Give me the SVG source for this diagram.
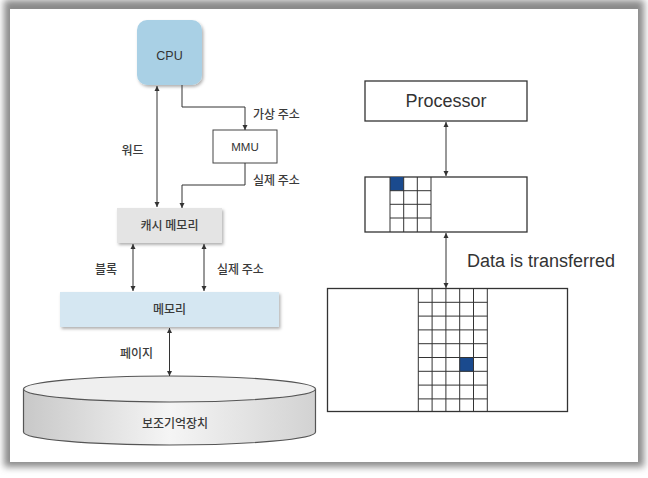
<svg xmlns="http://www.w3.org/2000/svg" width="648" height="478" viewBox="0 0 648 478">
<defs>
<filter id="frameShadow" x="-5%" y="-5%" width="110%" height="110%"><feGaussianBlur stdDeviation="3.5"/></filter>
<filter id="boxShadow" x="-20%" y="-20%" width="140%" height="150%"><feDropShadow dx="1.5" dy="2" stdDeviation="1.5" flood-color="#000" flood-opacity="0.3"/></filter>
<linearGradient id="cylSide" x1="0" y1="0" x2="1" y2="0">
<stop offset="0" stop-color="#c8c8c8"/><stop offset="0.5" stop-color="#f5f5f5"/><stop offset="1" stop-color="#d2d2d2"/>
</linearGradient>
<marker id="ah" viewBox="0 0 10 10" refX="10" refY="5" markerWidth="5" markerHeight="6" orient="auto-start-reverse" markerUnits="userSpaceOnUse">
<path d="M0,0 L10,5 L0,10 z" fill="#333"/>
</marker>
<style>
.ko{font-family:"Noto Sans CJK KR","Noto Sans",sans-serif;font-size:12px;font-weight:500;fill:#3a3a3a}
.en{font-family:"Liberation Sans",Arial,sans-serif;fill:#333}
.conn{fill:none;stroke:#333;stroke-width:1}
.grid{stroke:#333;stroke-width:1;fill:none}
.box{fill:#fff;stroke:#333;stroke-width:1.3}
</style>
</defs>
<rect x="0" y="0" width="648" height="478" fill="#fff"/>
<rect x="4" y="0" width="640" height="467" fill="#8a8a8a" filter="url(#frameShadow)"/>
<rect x="10" y="9" width="628" height="453" fill="#fff"/>

<g id="cpu">
<rect x="137" y="20" width="65" height="65" rx="10" fill="#a9d0e5" filter="url(#boxShadow)"/>
<text class="en" x="169.5" y="60" font-size="12.5" text-anchor="middle" fill="#3a4a55">CPU</text>
</g>
<g id="mmu">
<rect x="213" y="130" width="64" height="33" fill="#fff" stroke="#444" stroke-width="1"/>
<text class="en" x="245" y="151" font-size="11.5" text-anchor="middle">MMU</text>
</g>
<g id="cache-memory">
<rect x="117" y="208" width="105" height="35" fill="#e4e4e4" filter="url(#boxShadow)"/>
<text class="ko" x="169.5" y="229.5" text-anchor="middle">캐시 메모리</text>
</g>
<g id="memory">
<rect x="60" y="292" width="219" height="35" fill="#d5e7f2" filter="url(#boxShadow)"/>
<text class="ko" x="169.5" y="314" text-anchor="middle">메모리</text>
</g>
<g id="storage">
<path d="M23.5,389 V432 A146,13 0 0 0 315.5,432 V389" fill="url(#cylSide)" stroke="#555" stroke-width="1.2"/>
<ellipse cx="169.5" cy="389" rx="146" ry="13" fill="#efefef" stroke="#555" stroke-width="1.2"/>
<text class="ko" x="175" y="427.5" text-anchor="middle">보조기억장치</text>
</g>

<g id="processor">
<rect class="box" x="365" y="81" width="162" height="40"/>
<text class="en" x="446" y="107" font-size="18" text-anchor="middle">Processor</text>
</g>
<g id="cache-grid">
<rect class="box" x="365" y="177" width="162" height="55"/>
<rect x="390" y="177" width="13.7" height="13.7" fill="#1a4a8e"/>
<path class="grid" d="M390,177 V232 M403.7,177 V232 M417.3,177 V232 M431,177 V232 M390,190.7 H431 M390,204.3 H431 M390,218 H431"/>
</g>
<g id="memory-grid">
<rect class="box" x="327.5" y="288.5" width="240" height="123"/>
<rect x="459.6" y="357.8" width="13.8" height="13.8" fill="#1a4a8e"/>
<path class="grid" d="M418.3,288.5 V411.5 M432.1,288.5 V411.5 M445.9,288.5 V411.5 M459.7,288.5 V411.5 M473.5,288.5 V411.5 M487.3,288.5 V411.5 M418.3,302.3 H487.3 M418.3,316.1 H487.3 M418.3,329.9 H487.3 M418.3,343.7 H487.3 M418.3,357.5 H487.3 M418.3,371.3 H487.3 M418.3,385.1 H487.3 M418.3,398.9 H487.3"/>
</g>

<g id="connectors">
<path class="conn" d="M157,86 V207" marker-start="url(#ah)" marker-end="url(#ah)"/>
<path class="conn" d="M182,85 V107 H245 V130" marker-end="url(#ah)"/>
<path class="conn" d="M245,163 V185 H182 V208" marker-end="url(#ah)"/>
<path class="conn" d="M133,244 V291" marker-start="url(#ah)" marker-end="url(#ah)"/>
<path class="conn" d="M204,244 V291" marker-start="url(#ah)" marker-end="url(#ah)"/>
<path class="conn" d="M169.5,328 V376" marker-start="url(#ah)" marker-end="url(#ah)"/>
<path class="conn" d="M446,122 V176" marker-start="url(#ah)" marker-end="url(#ah)"/>
<path class="conn" d="M446,233 V288" marker-start="url(#ah)" marker-end="url(#ah)"/>
</g>

<g id="labels">
<text class="ko" x="253" y="118.5">가상 주소</text>
<text class="ko" x="132.5" y="154.5" text-anchor="middle">워드</text>
<text class="ko" x="253" y="184.5">실제 주소</text>
<text class="ko" x="106" y="273.5" text-anchor="middle">블록</text>
<text class="ko" x="217" y="273.5">실제 주소</text>
<text class="ko" x="136.5" y="357.5" text-anchor="middle">페이지</text>
<text class="en" x="467" y="266.5" font-size="18">Data is transferred</text>
</g>
</svg>
